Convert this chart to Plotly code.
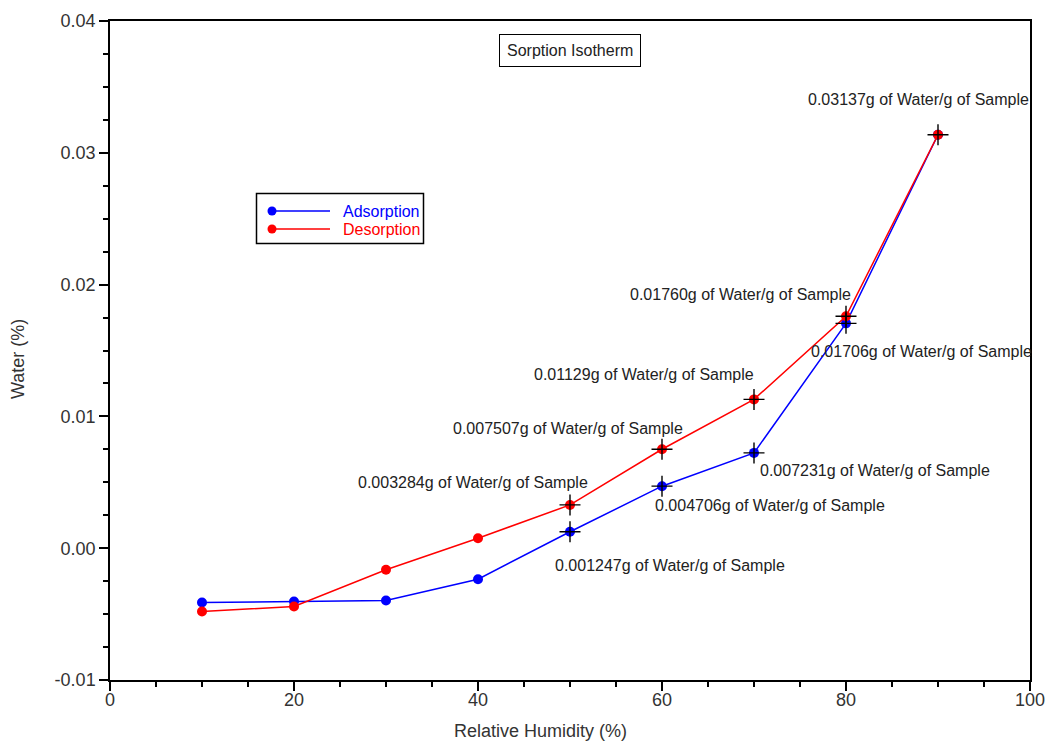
import plotly.graph_objects as go

# Relative humidity steps (%)
rh = [10, 20, 30, 40, 50, 60, 70, 80, 90]

# Water uptake (g water / g sample) for each branch of the isotherm
adsorption = [-0.00412, -0.00404, -0.00397, -0.00235, 0.001247, 0.004706, 0.007231, 0.01706, 0.03137]
desorption = [-0.00480, -0.00442, -0.00164, 0.00076, 0.003284, 0.007507, 0.01129, 0.01760, 0.03137]

# Labelled points: (branch, rh, value text, label offset in px)
labelled = [
    ("des", 90, "0.03137", (-20, -35)),
    ("des", 80, "0.01760", (-106, -22)),
    ("ads", 80, "0.01706", (75, 28)),
    ("des", 70, "0.01129", (-110, -25)),
    ("des", 60, "0.007507", (-94, -21)),
    ("ads", 70, "0.007231", (121, 18)),
    ("des", 50, "0.003284", (-97, -22)),
    ("ads", 60, "0.004706", (108, 19)),
    ("ads", 50, "0.001247", (100, 34)),
]

y_ticks = [0.04, 0.03, 0.02, 0.01, 0.0, -0.01]
y_tick_text = ["0.04", "0.03", "0.02", "0.01", "0.00", "-0.01"]
x_ticks = [0, 20, 40, 60, 80, 100]

FONT = "Liberation Sans, Arial"
W, H = 1049, 745
L, R, T, B = 110, 19, 21, 65


def px(x):
    """pixel column -> paper x"""
    return (x - L) / (W - L - R)


def py(y):
    """pixel row -> paper y"""
    return 1 - (y - T) / (H - T - B)


fig = go.Figure()

fig.add_trace(go.Scatter(
    x=rh, y=adsorption, mode="lines+markers", name="Adsorption", showlegend=False,
    line=dict(color="#0000ff", width=1.5),
    marker=dict(color="#0000ff", size=10),
))
fig.add_trace(go.Scatter(
    x=rh, y=desorption, mode="lines+markers", name="Desorption", showlegend=False,
    line=dict(color="#ff0000", width=1.5),
    marker=dict(color="#ff0000", size=10),
))

series = {"ads": adsorption, "des": desorption}
cross_x, cross_y = [], []
for branch, x, txt, (dx, dy) in labelled:
    y = series[branch][rh.index(x)]
    cross_x.append(x)
    cross_y.append(y)
    fig.add_annotation(
        x=x, y=y, xref="x", yref="y", text=f"{txt}g of Water/g of Sample",
        showarrow=True, arrowcolor="rgba(0,0,0,0)", ax=dx, ay=dy,
        font=dict(family=FONT, size=16, color="#222222"),
    )

fig.add_trace(go.Scatter(
    x=cross_x, y=cross_y, mode="markers", showlegend=False,
    marker=dict(symbol="cross-thin", size=15, line=dict(color="black", width=1.4)),
    hoverinfo="skip",
))

# Chart title in a framed box
fig.add_annotation(
    x=px(569.5), y=py(50.5), xref="paper", yref="paper", text="Sorption Isotherm",
    xanchor="center", yanchor="middle",
    showarrow=False, bordercolor="black", borderwidth=1, borderpad=7,
    bgcolor="white", font=dict(family=FONT, size=16, color="#222222"),
)

# Axis titles
fig.add_annotation(
    x=px(540), y=py(731), xref="paper", yref="paper", text="Relative Humidity (%)",
    xanchor="center", yanchor="middle",
    showarrow=False, font=dict(family=FONT, size=18, color="#333333"),
)
fig.add_annotation(
    x=px(18), y=py(359), xref="paper", yref="paper", text="Water (%)", textangle=-90,
    xanchor="center", yanchor="middle",
    showarrow=False, font=dict(family=FONT, size=18, color="#333333"),
)

# Legend box with line + dot samples and coloured labels
legend_items = [("Adsorption", "#0000ff", 211), ("Desorption", "#ff0000", 229)]
fig.add_shape(type="rect", xref="paper", yref="paper",
              x0=px(256.5), x1=px(423.5), y0=py(193.5), y1=py(243.5),
              line=dict(color="black", width=1.5), fillcolor="white", layer="above")
for name, color, row in legend_items:
    fig.add_shape(type="line", xref="paper", yref="paper",
                  x0=px(272), x1=px(330), y0=py(row), y1=py(row),
                  line=dict(color=color, width=1.5), layer="above")
    fig.add_shape(type="circle", xref="paper", yref="paper",
                  x0=px(267.5), x1=px(276.5), y0=py(row - 4.5), y1=py(row + 4.5),
                  line=dict(color=color, width=0), fillcolor=color, layer="above")
    fig.add_annotation(
        x=px(341), y=py(row), xref="paper", yref="paper", text=name,
        xanchor="left", yanchor="middle", showarrow=False,
        font=dict(family=FONT, size=16, color=color),
    )

axis_common = dict(
    showline=True, linecolor="black", linewidth=1.5, mirror=True,
    ticks="outside", tickcolor="black", tickwidth=1.5, ticklen=9,
    showgrid=False, zeroline=False, automargin=False,
    tickfont=dict(family=FONT, size=18, color="#333333"),
)

fig.update_xaxes(
    range=[0, 100], tickvals=x_ticks, ticklabelstandoff=-6,
    minor=dict(dtick=5, ticks="outside", ticklen=5, tickcolor="black", tickwidth=1.5),
    **axis_common,
)
fig.update_yaxes(
    range=[-0.01, 0.04], tickvals=y_ticks, ticktext=y_tick_text,
    minor=dict(dtick=0.0025, tick0=0, ticks="outside", ticklen=5, tickcolor="black", tickwidth=1.5),
    **axis_common,
)

fig.update_layout(
    width=W, height=H,
    margin=dict(l=L, r=R, t=T, b=B),
    paper_bgcolor="white", plot_bgcolor="white",
    showlegend=False,
)

fig.write_html("out.html")
